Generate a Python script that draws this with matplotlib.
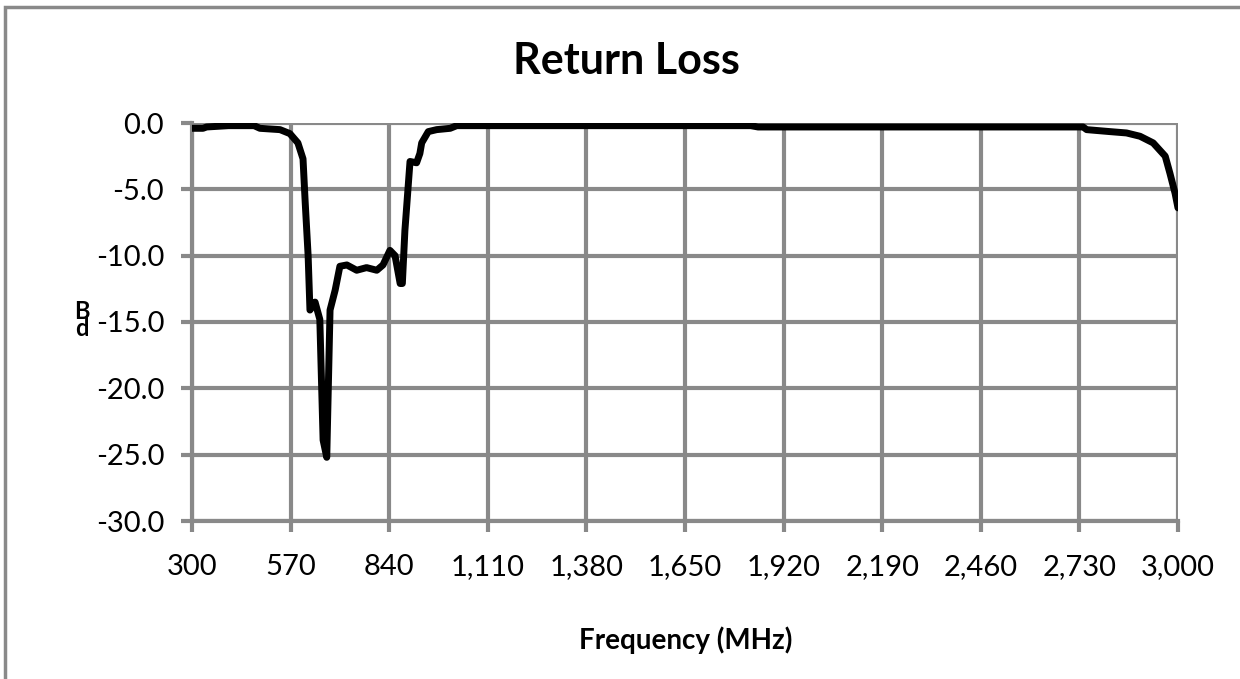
import numpy as np
import matplotlib.pyplot as plt
from matplotlib.ticker import FuncFormatter
from matplotlib.patches import Rectangle

# Return loss trace
freq_mhz = [300, 330, 340, 400, 470, 486, 541, 568, 590, 604, 610, 618, 623,
            637, 650, 659, 669, 678, 692, 705, 724, 751, 778, 806, 823, 842,
            856, 870, 876, 883, 897, 915, 924, 929, 947, 970, 1007, 1025,
            1400, 1830, 1850, 2300, 2740, 2750, 2814, 2859, 2896, 2932,
            2965, 2978, 2992, 3000]
loss_db = [-0.4, -0.4, -0.3, -0.2, -0.2, -0.4, -0.5, -0.8, -1.5, -2.7, -6.0,
           -10.0, -14.1, -13.5, -14.8, -23.9, -25.2, -14.1, -12.6, -10.8,
           -10.7, -11.1, -10.9, -11.1, -10.7, -9.6, -10.0, -12.1, -12.1,
           -8.1, -2.9, -3.0, -2.3, -1.5, -0.65, -0.5, -0.4, -0.2,
           -0.2, -0.2, -0.3, -0.3, -0.3, -0.5, -0.65, -0.75, -1.0, -1.5,
           -2.5, -3.8, -5.3, -6.4]

x_ticks = [300, 570, 840, 1110, 1380, 1650, 1920, 2190, 2460, 2730, 3000]
y_ticks = [0, -5, -10, -15, -20, -25, -30]

font = ['Lato', 'DejaVu Sans']
plt.rcParams['font.family'] = font
grey = '#898989'

fig = plt.figure(figsize=(12.4, 6.79), dpi=100)
ax = fig.add_axes([192 / 1240, 1 - 521 / 679, 986 / 1240, 398 / 679])

ax.plot(freq_mhz, loss_db, color='black', lw=5, solid_joinstyle='round',
        solid_capstyle='round', zorder=3)

ax.set_xlim(300, 3000)
ax.set_ylim(-30, 0)
ax.set_xticks(x_ticks)
ax.set_yticks(y_ticks)
ax.xaxis.set_major_formatter(FuncFormatter(lambda v, p: f'{v:,.0f}'))
ax.yaxis.set_major_formatter(FuncFormatter(lambda v, p: f'{v:.1f}'))
ax.grid(True, color=grey, lw=3)
ax.set_axisbelow(True)
for s in ['top', 'right']:
    ax.spines[s].set_visible(False)
for s in ['left', 'bottom']:
    ax.spines[s].set_color(grey)
    ax.spines[s].set_linewidth(3)
ax.tick_params(axis='both', colors=grey, width=3, length=8, labelsize=21,
               labelcolor='black')
ax.tick_params(axis='x', pad=16)
ax.tick_params(axis='y', pad=12)

fig.text(0.5 + 0.005, 1 - 61 / 679, 'Return Loss', ha='center', va='center',
         fontsize=31, fontweight='bold')
fig.text(686 / 1240, 1 - 640 / 679, 'Frequency (MHz)', ha='center',
         va='center', fontsize=20, fontweight='bold')
fig.text(82 / 1240, 1 - 320 / 679, 'B\nd', ha='center', va='center',
         fontsize=17, fontweight='bold', linespacing=0.65)

fig.patches.append(Rectangle((5 / 1240, -0.1), 1.2, 1 - 7 / 679 + 0.1,
                             transform=fig.transFigure, fill=False,
                             edgecolor=grey, lw=2.5))

fig.savefig('out.png', dpi=100)
